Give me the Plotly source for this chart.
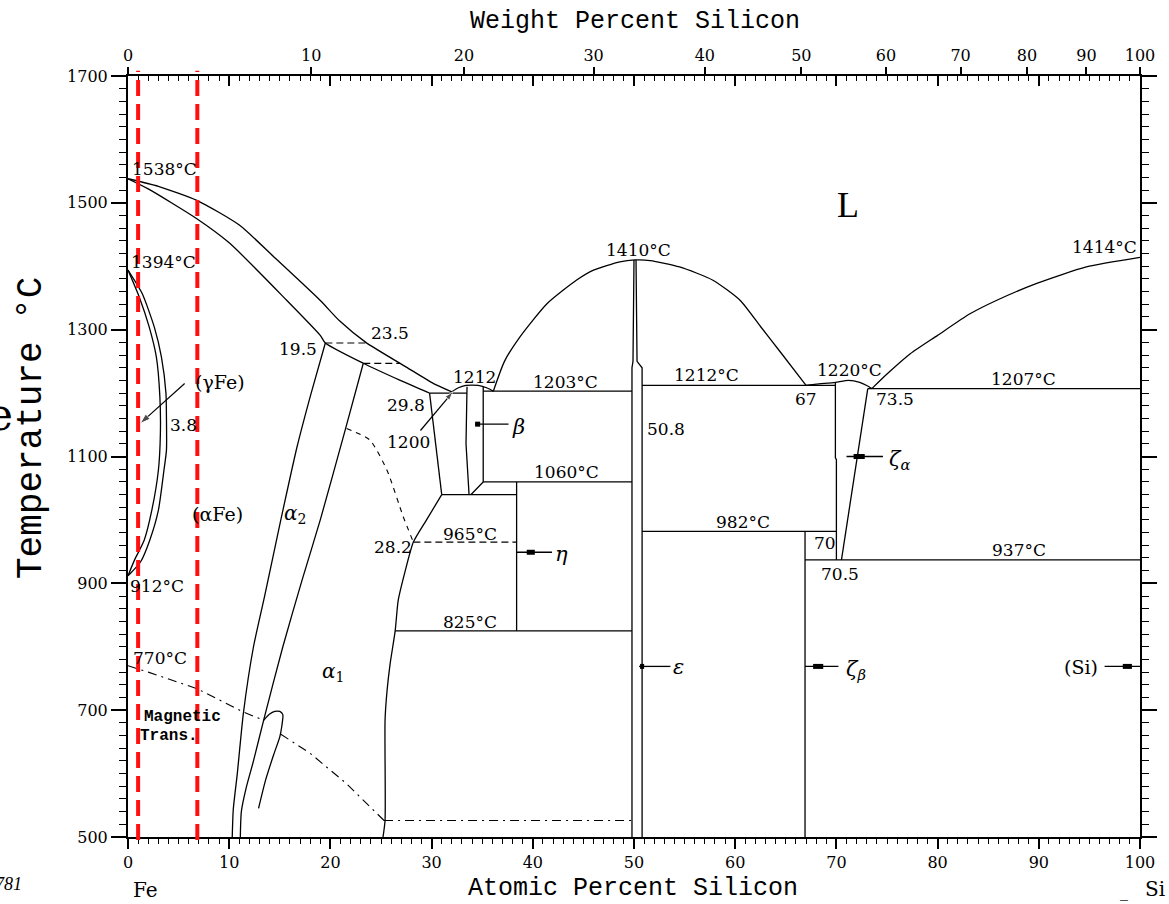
import plotly.graph_objects as go

# ---------------------------------------------------------------
# Fe-Si binary phase diagram (composition in atomic % Si, T in °C)
# ---------------------------------------------------------------

# invariant temperatures (°C)
T_FE_MELT = 1538
T_A4 = 1394
T_A3 = 912
T_CURIE = 770
T_EUT_A = 1200
T_BETA_MAX = 1212
T_EUT_B = 1203
T_BETA_EUTECTOID = 1060
T_A1_BETA = 1040
T_ETA_ORDER = 965
T_ETA_LOW = 825
T_EPS_MELT = 1410
T_EUT_C = 1212
T_ZA_MAX = 1220
T_EUT_D = 1207
T_ZA_LOW = 982
T_ZB = 937
T_SI_MELT = 1414
T_MAG_FLOOR = 526

# characteristic compositions (at.% Si)
C_A2_TOP = 19.5
C_LIQ_A2 = 23.5
C_A1_TOP = 29.8
C_ORDER = 28.2
C_EPS_RIGHT = 50.8
C_EPS_LEFT = 49.8
C_EUT_C = 67
C_EUT_D = 73.5
C_ZA_LEFT = 70
C_ZA_RIGHT = 70.5
C_GAMMA_MAX = 3.8
C_ETA = 38.4
C_ZB = 66.9

# Fe-rich liquidus / solidus
liq_fe_x = [0, 3, 6.8, 11.0, 14.4, 19.0, 20.9, C_LIQ_A2, 27.5, 30.2, 32.0]
liq_fe_t = [T_FE_MELT, 1526, 1504, 1465, 1415, 1346, 1314, 1280, 1241, 1215, 1202]
sol_fe_x = [0, 2, 6.8, 10.0, 15.7, 19.0, C_A2_TOP, 23.25, 26.9, C_A1_TOP]
sol_fe_t = [T_FE_MELT, 1522, 1475, 1437, 1346, 1291, 1279, 1247, 1220, T_EUT_A]

# gamma loop
gam_out_x = [0, 1.4, 2.6, 3.3, 3.75, C_GAMMA_MAX, C_GAMMA_MAX, 3.55, 3.0, 2.15, 1.25, 0.2, 0]
gam_out_t = [T_A4, 1357, 1304, 1257, 1200, 1160, 1110, 1078, 1015, 968, 934, 915, T_A3]
gam_in_x = [0, 1.1, 2.1, 2.8, 3.15, 3.2, 3.0, 2.35, 1.6, 0.65, 0]
gam_in_t = [T_A4, 1352, 1304, 1257, 1194, 1136, 1078, 1015, 968, 937, T_A3]

# alpha2 (B2) boundaries
a2_left_x = [C_A2_TOP, 18.1, 16.7, 15.1, 13.5, 12.4, 11.4, 10.8, 10.4, 10.3]
a2_left_t = [1279, 1200, 1115, 1000, 880, 800, 695, 600, 543, 500]
a2_right_x = [23.25, 21.5, 19.0, 17.2, 15.3, 13.4, 12.4, 11.7, 11.2, 11.1]
a2_right_t = [1247, 1144, 1000, 905, 800, 684, 620, 579, 540, 500]

# magnetic miscibility loop
loop_x = [12.9, 13.6, 14.4, 15.0, 15.2, 15.3, 15.0, 14.5, 14.0, 13.4]
loop_t = [545, 590, 630, 658, 675, 693, 698, 698, 694, 684]

# Curie line (dash-dot)
mag1_x = [0, 2, 6.8, 11.4, 13.4]
mag1_t = [T_CURIE, 760, 734, 697, 684]
mag2_x = [15.1, 18.0, 21.6, 25.3]
mag2_t = [662, 632, 584, T_MAG_FLOOR]

# B2 / DO3 ordering line inside alpha1 (dashed)
order_x = [21.6, 23.9, 25.6, 27.2, C_ORDER]
order_t = [1144, 1126, 1078, 1005, T_ETA_ORDER]

# alpha1 solvus
a1_x = [31.0, 29.5, C_ORDER, 27.4, 26.7, 26.4, 25.9, 25.6, 25.4, 25.4, 25.2]
a1_t = [T_A1_BETA, 1000, T_ETA_ORDER, 920, 873, T_ETA_LOW, 773, 731, 684, 526, 500]

# beta phase
beta_left_x = [33.5, 33.4, 33.7]
beta_left_t = [1210, 1120, T_A1_BETA]
beta_right_x = [35.1, 35.1, 33.9]
beta_right_t = [1210, T_BETA_EUTECTOID, T_A1_BETA]
beta_liq_x = [32.0, 32.6, 33.4, 34.6, 35.5, 36.1]
beta_liq_t = [1202, 1208, T_BETA_MAX, T_BETA_MAX, 1208, T_EUT_B]
a1_beta_x = [C_A1_TOP, 31.0]
a1_beta_t = [T_EUT_A, T_A1_BETA]

# epsilon (FeSi) liquidus dome and boundaries
dome_x = [36.1, 37.2, 38.7, 41.4, 44.3, 46.0, 48.6, 50.1, 51.6, 54.5, 57.8, 60.5, 62.5, 64.5, C_EUT_C]
dome_t = [T_EUT_B, 1250, 1288, 1341, 1378, 1394, 1407, T_EPS_MELT, 1409, 1399, 1378, 1346, 1305, 1264, T_EUT_C]
eps_left_x = [50.0, 49.9, C_EPS_LEFT, C_EPS_LEFT]
eps_left_t = [T_EPS_MELT, 1250, 1240, 500]
eps_right_x = [50.2, 50.3, C_EPS_RIGHT, C_EPS_RIGHT]
eps_right_t = [T_EPS_MELT, 1250, 1240, 500]

# zeta-alpha (FeSi2 HT) liquidus and boundaries
za_liq_x = [C_EUT_C, 68.0, 69.9, 71.2, 72.3, 73.0, C_EUT_D]
za_liq_t = [T_EUT_C, 1214, 1217, T_ZA_MAX, 1217, 1212, T_EUT_D]
za_left_x = [69.9, 69.9, C_ZA_LEFT, C_ZA_LEFT]
za_left_t = [1217, 1098, 1095, T_ZB]
za_right_x = [73.1, C_ZA_RIGHT]
za_right_t = [T_EUT_D, T_ZB]

# Si liquidus
si_liq_x = [C_EUT_D, 75.0, 77.3, 80.0, 83.2, 85.8, 89.8, 94.7, 100]
si_liq_t = [T_EUT_D, 1230, 1262, 1291, 1325, 1346, 1373, 1399, T_SI_MELT]

# isotherms (x0, x1, T)
iso_solid = [
    (C_A1_TOP, 33.5, T_EUT_A),
    (35.1, C_EPS_LEFT, T_EUT_B),
    (31.0, C_ETA, T_A1_BETA),
    (35.1, C_EPS_LEFT, T_BETA_EUTECTOID),
    (26.4, C_EPS_LEFT, T_ETA_LOW),
    (C_EPS_RIGHT, 69.9, T_EUT_C),
    (C_EPS_RIGHT, C_ZA_LEFT, T_ZA_LOW),
    (C_ZB, 100, T_ZB),
    (73.1, 100, T_EUT_D),
]
iso_dashed = [
    (C_A2_TOP, C_LIQ_A2, 1279),
    (23.25, 26.9, 1247),
    (C_ORDER, C_ETA, T_ETA_ORDER),
]
iso_dashdot = [(25.3, C_EPS_LEFT, T_MAG_FLOOR)]
# vertical phase lines (x, T0, T1)
verticals = [(C_ETA, T_ETA_LOW, T_BETA_EUTECTOID), (C_ZB, 500, T_ZA_LOW)]

# reference compositions marked in red
red_marks = [1.0, 6.85]

# weight-percent scale along the top
wt_ticks = [0, 10, 20, 30, 40, 50, 60, 70, 80, 90, 100]
M_SI, M_FE = 28.0855, 55.845


def wt_to_at(w):
    if w >= 100:
        return 100.0
    n_si = w / M_SI
    n_fe = (100 - w) / M_FE
    return 100 * n_si / (n_si + n_fe)


# ---------------------------------------------------------------
W, H = 1169, 904
ML, MR, MT, MB = 128, 29, 76, 67
PW, PH = W - ML - MR, H - MT - MB

fig = go.Figure()


def curve(x, t, dash="solid", width=1.3, smooth=False):
    line = dict(color="black", width=width, dash=dash)
    if smooth:
        line.update(shape="spline", smoothing=0.6)
    fig.add_trace(go.Scatter(x=x, y=t, mode="lines", line=line,
                             hoverinfo="skip", showlegend=False))


def arrow(x0, t0, x1, t1, size=11):
    fig.add_trace(go.Scatter(x=[x0, x1], y=[t0, t1], mode="lines+markers",
                             line=dict(color="black", width=1.2),
                             marker=dict(symbol="arrow", size=[0, size], angleref="previous",
                                         color="black"),
                             hoverinfo="skip", showlegend=False))


for xs, ts in [(liq_fe_x, liq_fe_t), (sol_fe_x, sol_fe_t), (gam_out_x, gam_out_t),
               (gam_in_x, gam_in_t), (a2_left_x, a2_left_t), (a2_right_x, a2_right_t),
               (loop_x, loop_t), (a1_x, a1_t), (beta_liq_x, beta_liq_t),
               (dome_x, dome_t), (za_liq_x, za_liq_t), (si_liq_x, si_liq_t)]:
    curve(xs, ts, smooth=True)

for xs, ts in [(beta_left_x, beta_left_t), (beta_right_x, beta_right_t),
               (a1_beta_x, a1_beta_t), (eps_left_x, eps_left_t),
               (eps_right_x, eps_right_t), (za_left_x, za_left_t),
               (za_right_x, za_right_t)]:
    curve(xs, ts)

curve(mag1_x, mag1_t, dash="9px,5px,2px,5px", width=1.1)
curve(mag2_x, mag2_t, dash="9px,5px,2px,5px", width=1.1)
curve(order_x, order_t, dash="5px,5px", width=1.1, smooth=True)

for x0, x1, t in iso_solid:
    curve([x0, x1], [t, t])
for x0, x1, t in iso_dashed:
    curve([x0, x1], [t, t], dash="7px,4px", width=1.2)
for x0, x1, t in iso_dashdot:
    curve([x0, x1], [t, t], dash="9px,5px,2px,5px", width=1.1)
for x, t0, t1 in verticals:
    curve([x, x], [t0, t1])

# phase pointers: thin leader with a short heavy block
pointers = [
    (34.3, 37.6, 1151, 34.3, 34.8),
    (C_ETA, 41.9, 949, 39.4, 40.2),
    (71.0, 74.6, 1100, 71.7, 72.8),
    (C_ZB, 70.2, 769, 67.7, 68.7),
    (C_EPS_RIGHT - 0.3, 53.6, 769, 50.6, 51.0),
    (96.5, 100, 769, 98.3, 99.2),
]
for x0, x1, t, b0, b1 in pointers:
    curve([x0, x1], [t, t], width=1.3)
    curve([b0, b1], [t, t], width=5)

# leader arrows for (γFe) and the 1200 °C eutectic
arrow(5.6, 1215, 1.2, 1152)
arrow(28.9, 1141, 32.1, 1202, size=9)

# invisible traces so the top axes render
fig.add_trace(go.Scatter(x=[0, 100], y=[500, 500], xaxis="x2", mode="markers",
                         marker=dict(opacity=0), hoverinfo="skip", showlegend=False))
fig.add_trace(go.Scatter(x=[0, 100], y=[500, 500], xaxis="x3", mode="markers",
                         marker=dict(opacity=0), hoverinfo="skip", showlegend=False))

# red reference composition lines
for xr in red_marks:
    fig.add_shape(type="line", xref="x", yref="paper", x0=xr, x1=xr, y0=-0.004, y1=1.007,
                  line=dict(color="#ff1010", width=4, dash="16px,8px"))

SERIF = "DejaVu Serif"
MONO = "Liberation Mono"


def label(text, x, t, size=17, family=SERIF, **kw):
    fig.add_annotation(x=x, y=t, text=text, showarrow=False,
                       xanchor="center", yanchor="middle",
                       font=dict(family=family, size=size, color="black"), **kw)


def px_label(text, px, py, size, family, xanchor="center", **kw):
    fig.add_annotation(xref="paper", yref="paper", x=(px - ML) / PW, y=(H - MB - py) / PH,
                       text=text, showarrow=False, xanchor=xanchor, yanchor="middle",
                       font=dict(family=family, size=size, color="black"), **kw)


label(f"{T_FE_MELT}°C", 3.6, 1554)
label(f"{T_A4}°C", 3.5, 1406)
label(f"{T_A3}°C", 2.9, 896)
label(f"{T_CURIE}°C", 3.2, 783)
label("(γFe)", 9.1, 1218, size=19)
label("(αFe)", 8.8, 1010, size=19)
label(f"{C_GAMMA_MAX}", 5.5, 1149)
label("<b>Magnetic</b>", 5.4, 689, size=16, family=MONO)
label("<b>Trans.</b>", 4.1, 660, size=16, family=MONO)
label("<i>α</i><sub>2</sub>", 16.5, 1010, size=20)
label("<i>α</i><sub>1</sub>", 20.3, 760, size=20)
label(f"{C_A2_TOP}", 16.8, 1270)
label(f"{C_LIQ_A2}", 25.9, 1294)
label(f"{C_A1_TOP}", 27.5, 1181)
label(f"{T_EUT_A}", 27.7, 1123)
label(f"{T_BETA_MAX}", 34.2, 1226)
label(f"{C_ORDER}", 26.2, 957)
label(f"{T_ETA_ORDER}°C", 33.8, 978)
label(f"{T_EUT_B}°C", 43.2, 1217)
label(f"{T_BETA_EUTECTOID}°C", 43.3, 1076)
label(f"{T_ETA_LOW}°C", 33.8, 839)
label("<i>β</i>", 38.6, 1147, size=21)
label("<i>η</i>", 42.8, 947, size=21)
label(f"{C_EPS_RIGHT}", 53.2, 1144)
label(f"{T_EUT_C}°C", 57.2, 1228)
label(f"{T_EPS_MELT}°C", 50.4, 1425)
label(f"{T_ZA_LOW}°C", 60.8, 997)
label(f"{C_EUT_C}", 67.0, 1191)
label(f"{T_ZA_MAX}°C", 71.3, 1236)
label(f"{C_EUT_D}", 75.8, 1191)
label(f"{T_EUT_D}°C", 88.5, 1223)
label("<i>ζ</i><sub><i>α</i></sub>", 76.2, 1094, size=21)
label(f"{C_ZA_LEFT}", 68.9, 963)
label(f"{C_ZA_RIGHT}", 70.4, 915)
label(f"{T_ZB}°C", 88.0, 952)
label("<i>ζ</i><sub><i>β</i></sub>", 71.9, 763, size=21)
label("<i>ε</i>", 54.4, 768, size=21)
label("(Si)", 94.2, 768, size=19)
label(f"{T_SI_MELT}°C", 96.5, 1430)
label("L", 71.1, 1496, size=36, family="Liberation Serif")

# axis titles and margin text
px_label("Weight Percent Silicon", 635, 22, 25, MONO)
px_label("Atomic Percent Silicon", 633, 889, 25, MONO)
px_label("Temperature °C", 31, 428, 36, MONO, textangle=-90)
px_label("Fe", 145, 890, 20, SERIF)
px_label("Si", 1155, 889, 20, SERIF)
px_label("_", 1124, 891, 16, SERIF)
px_label("<i>781</i>", 24, 884, 18, "Liberation Serif", xanchor="right")
px_label("e", 0, 414, 44, SERIF)

axis_common = dict(showgrid=False, zeroline=False, linecolor="black", tickcolor="black",
                   tickfont=dict(family=SERIF, size=16, color="black"))

fig.update_layout(
    width=W, height=H,
    margin=dict(l=ML, r=MR, t=MT, b=MB),
    paper_bgcolor="white", plot_bgcolor="white",
    showlegend=False,
    xaxis=dict(range=[0, 100], tick0=0, dtick=10, ticks="outside", ticklen=10, tickwidth=1.5,
               minor=dict(dtick=1, ticks="outside", ticklen=5, tickwidth=1.2, tickcolor="black"),
               showline=True, linewidth=2, **axis_common),
    xaxis2=dict(overlaying="x", side="top", range=[0, 100], tick0=0, dtick=10,
                ticks="inside", ticklen=10, tickwidth=1.5,
                minor=dict(dtick=1, ticks="inside", ticklen=5, tickwidth=1.2, tickcolor="black"),
                showticklabels=False, showline=True, linewidth=2, **axis_common),
    xaxis3=dict(overlaying="x", side="top", range=[0, 100], tickmode="array",
                tickvals=[wt_to_at(w) for w in wt_ticks], ticktext=[str(w) for w in wt_ticks],
                ticks="outside", ticklen=8, tickwidth=1.5, showline=False, **axis_common),
    yaxis=dict(range=[500, 1700], tick0=500, dtick=200, ticks="outside", ticklen=15, tickwidth=1.5,
               minor=dict(dtick=20, ticks="outside", ticklen=7, tickwidth=1.2, tickcolor="black"),
               showline=True, linewidth=2, mirror="ticks", **axis_common),
)

fig.write_html("out.html")
